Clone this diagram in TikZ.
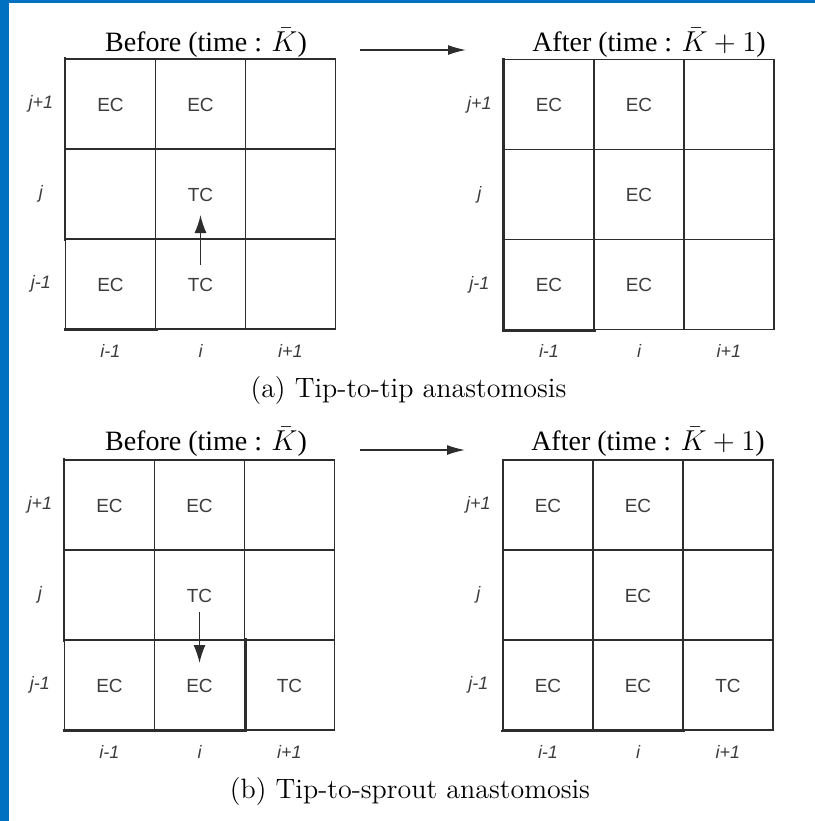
\documentclass[tikz,border=0pt]{standalone}
\usepackage{fontspec}
\usepackage{amsmath}
\usetikzlibrary{arrows.meta,positioning,calc,matrix}
\newfontfamily\serifT{Liberation Serif}
\newfontfamily\sansA{Liberation Sans}
\definecolor{frameblue}{RGB}{0,112,192}
\definecolor{gridc}{RGB}{45,45,45}
\definecolor{cellt}{RGB}{60,60,60}

\tikzset{
  lattice/.style={matrix of nodes, nodes in empty cells,
    row sep=-0.6pt, column sep=-0.6pt,
    nodes={draw=gridc, line width=0.6pt, minimum size=45pt, inner sep=0pt,
           anchor=center, text height=7pt, text depth=0pt,
           font=\sansA\fontsize{9.5}{10}\selectfont, text=cellt}},
  heavy/.style={line width=1.4pt, draw=gridc, line cap=rect},
  idx/.style={font=\sansA\itshape\fontsize{9}{10}\selectfont, text=cellt},
  head/.style={font=\serifT\fontsize{14}{16}\selectfont, inner sep=0pt},
  capt/.style={font=\fontsize{14}{16}\selectfont, inner sep=0pt},
  move/.style={-{Latex[length=9pt,width=6pt]}, line width=0.7pt, draw=gridc},
}

\begin{document}
\begin{tikzpicture}[x=0.5pt,y=-0.5pt]
\fill[frameblue] (0,0) rectangle (9,821);
\fill[frameblue] (0,0) rectangle (815,3);
\useasboundingbox (0,0) rectangle (815,821);

% (a) tip-to-tip
\matrix (aB) [lattice] at (200.5,194) {EC & EC & \\ & TC & \\ EC & TC & \\};
\matrix (aA) [lattice] at (639,194.5) {EC & EC & \\ & EC & \\ EC & EC & \\};
\node[head] (aBt) at (206,43) {Before (time : $\bar{K}$)};
\node[head] (aAt) at (649,43) {After (time : $\bar{K}+1$)};
\coordinate (aGo) at (360,50);
\coordinate (aTo) at (466,50);
\draw[move,-{Latex[length=9pt,width=5pt]}] (aGo) -- (aTo);
\draw[move] ($(aB-3-2.center)+(0,-19)$) -- ($(aB-2-2.center)+(0,21)$);
\draw[heavy] (aB-1-1.north west) -- (aB-2-1.south west);
\draw[heavy] (aB-3-1.south west) -- (aB-3-1.south east);
\draw[heavy] (aA-1-1.north west) -- (aA-3-1.south west) -- (aA-3-1.south east);
\node[capt] (aCap) at (408.5,391) {(a) Tip-to-tip anastomosis};

% (b) tip-to-sprout
\matrix (bB) [lattice] at (199.5,595) {EC & EC & \\ & TC & \\ EC & EC & TC \\};
\matrix (bA) [lattice] at (638,595) {EC & EC & \\ & EC & \\ EC & EC & TC \\};
\node[head] (bBt) at (206,442) {Before (time : $\bar{K}$)};
\node[head] (bAt) at (648,442) {After (time : $\bar{K}+1$)};
\coordinate (bGo) at (360,450);
\coordinate (bTo) at (465,450);
\draw[move,-{Latex[length=9pt,width=5pt]}] (bGo) -- (bTo);
\draw[move] ($(bB-2-2.center)+(0,17)$) -- ($(bB-3-2.center)+(0,-22)$);
\draw[heavy] (bB-1-1.north west) -- (bB-2-1.south west);
\draw[heavy] (bB-3-1.south west) -- (bB-3-2.south east) -- (bB-3-2.north east);
\draw[heavy,line width=1pt] (bA-3-1.south west) -- (bA-3-2.south east);
\node[capt] (bCap) at (410,792) {(b) Tip-to-sprout anastomosis};

% row and column indices
\foreach \g in {aB,aA,bB,bA} {
  \foreach \r/\t in {1/j+1,2/j,3/j-1}
    \node[idx] (\g-r\r) at ($(\g-\r-1.west)+(-24,0)$) {\t};
  \foreach \c/\t in {1/i-1,2/i,3/i+1}
    \node[idx] (\g-c\c) at ($(\g-3-\c.south)+(0,21)$) {\t};
}
\end{tikzpicture}
\end{document}
